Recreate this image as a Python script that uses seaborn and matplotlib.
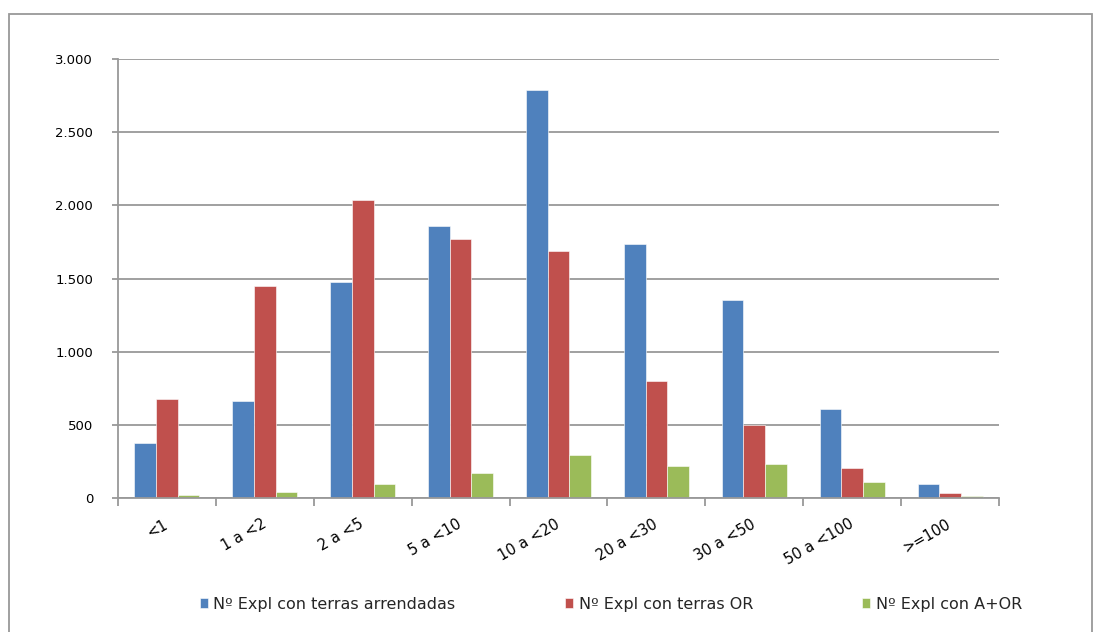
import pandas as pd
import numpy as np
import matplotlib as mpl
import matplotlib.pyplot as plt
import seaborn as sns
from matplotlib.ticker import FuncFormatter

categories = ['<1', '1 a <2', '2 a <5', '5 a <10', '10 a <20',
              '20 a <30', '30 a <50', '50 a <100', '>=100']
arrendadas = [375, 663, 1473, 1856, 2790, 1733, 1352, 611, 95]
terras_or = [675, 1452, 2034, 1771, 1690, 801, 498, 204, 33]
a_mais_or = [22, 44, 96, 170, 295, 222, 233, 107, 12]

series_names = ['Nº Expl con terras arrendadas', 'Nº Expl con terras OR', 'Nº Expl con A+OR']
colors = ['#4F81BD', '#C0504D', '#9BBB59']

df = pd.DataFrame({'Clase': categories,
                   series_names[0]: arrendadas,
                   series_names[1]: terras_or,
                   series_names[2]: a_mais_or})
df = pd.melt(df, id_vars=['Clase'], var_name='Serie', value_name='Explotacions')

sns.set_theme(style='white')
plt.rcParams['font.family'] = ['DejaVu Sans']

fig = plt.figure(figsize=(10.95, 6.32), dpi=100)
ax = fig.add_axes([118/1095, 1-498/632, (999-118)/1095, (498-59)/632])

sns.barplot(data=df, x='Clase', y='Explotacions', hue='Serie',
            order=categories, hue_order=series_names, palette=colors,
            width=0.665, gap=0, saturation=1, edgecolor='white', linewidth=0.4,
            ax=ax, legend=True)

ax.set_ylim(0, 3000)
ax.set_xlim(-0.5, len(categories)-0.5)
ax.set_yticks(range(0, 3001, 500))
ax.yaxis.set_major_formatter(FuncFormatter(lambda v, p: f'{int(v):,}'.replace(',', '.')))
ax.grid(axis='y', color='#999999', linewidth=1.3)
ax.set_axisbelow(True)
ax.set_xlabel('')
ax.set_ylabel('')

for s in ['top', 'right']:
    ax.spines[s].set_visible(False)
for s in ['left', 'bottom']:
    ax.spines[s].set_color('#999999')
    ax.spines[s].set_linewidth(1.3)

# ticks on category boundaries, labels on centres
ax.set_xticks(np.arange(-0.5, len(categories), 1.0))
ax.set_xticklabels([])
ax.tick_params(axis='x', which='major', direction='out', length=6, width=1.3, color='#999999', bottom=True)
ax.tick_params(axis='y', which='major', direction='out', length=4, width=1.3, color='#999999', left=True,
               labelsize=9.5, labelcolor='black', pad=14)
ax.set_xticks(np.arange(len(categories)), minor=True)
ax.set_xticklabels(categories, minor=True, rotation=30, ha='right', va='center',
                   rotation_mode='anchor', fontsize=10.5)
ax.tick_params(axis='x', which='minor', length=0, pad=18, labelcolor='black')

handles, labels = ax.get_legend_handles_labels()
ax.get_legend().remove()
fig.legend(handles, labels, loc='center', bbox_to_anchor=(611/1095, 1-604/632),
           ncol=3, frameon=False, fontsize=11.5, handlelength=0.5, handleheight=0.6,
           handletextpad=0.35, columnspacing=6.85)

fig.patches.append(mpl.patches.Rectangle((9/1095, -0.1), (1092-9)/1095, 1.1-14/632,
                                         transform=fig.transFigure, fill=False,
                                         edgecolor='#999999', linewidth=1.3))

plt.savefig('out.png', dpi=100)
